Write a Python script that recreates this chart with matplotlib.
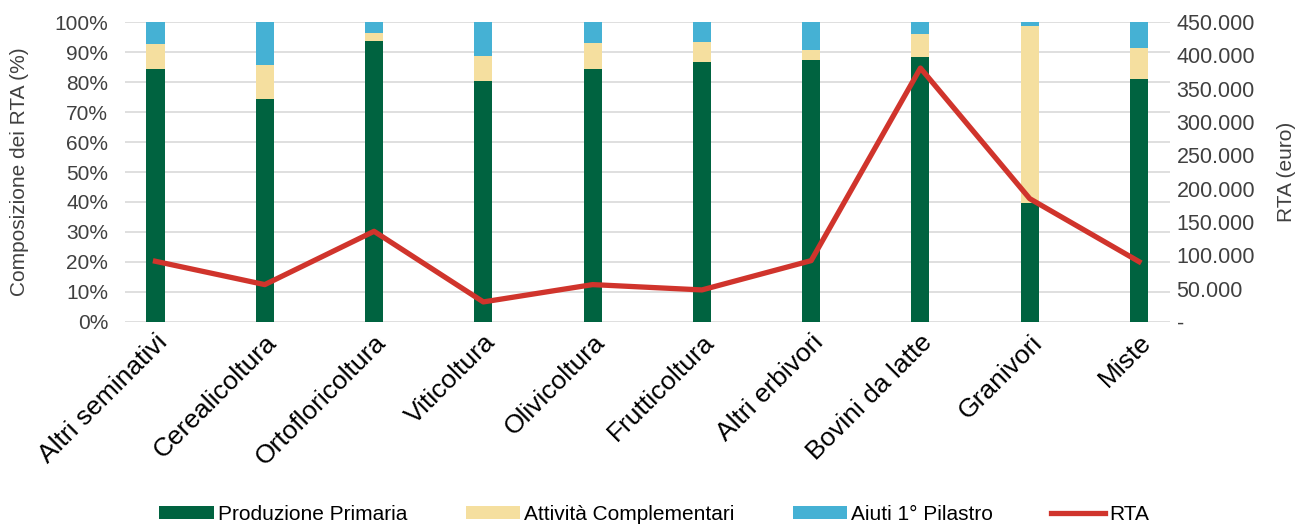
import matplotlib.pyplot as plt
from matplotlib.ticker import FuncFormatter, MultipleLocator

plt.rcParams['font.family'] = ['Liberation Sans', 'DejaVu Sans']

# ordinamenti produttivi
categorie = ["Altri seminativi", "Cerealicoltura", "Ortofloricoltura", "Viticoltura",
             "Olivicoltura", "Frutticoltura", "Altri erbivori", "Bovini da latte",
             "Granivori", "Miste"]

# composizione dei RTA (%)
produzione_primaria = [84.4, 74.5, 93.6, 80.5, 84.3, 86.8, 87.2, 88.4, 39.8, 80.9]
attivita_complementari = [8.4, 11.3, 2.8, 8.2, 8.8, 6.7, 3.5, 7.7, 59.0, 10.3]
aiuti_pilastro = [7.2, 14.2, 3.6, 11.3, 6.9, 6.5, 9.3, 3.9, 1.2, 8.8]

# RTA medio (euro)
rta = [91000, 56000, 136000, 30000, 56000, 48000, 92000, 381000, 185000, 90500]

verde = "#006340"
giallo = "#F5DF9F"
azzurro = "#45B1D4"
rosso = "#D0342C"
grigio = "#404040"

fig = plt.figure(figsize=(13.01, 5.26), dpi=100)
ax = fig.add_axes([0.096, 0.388, 0.803, 0.570])

x = range(len(categorie))
w = 0.165
ax.bar(x, produzione_primaria, w, color=verde, label="Produzione Primaria", zorder=2)
base = produzione_primaria
ax.bar(x, attivita_complementari, w, bottom=base, color=giallo,
       label="Attività Complementari", zorder=2)
base = [a + b for a, b in zip(produzione_primaria, attivita_complementari)]
ax.bar(x, aiuti_pilastro, w, bottom=base, color=azzurro, label="Aiuti 1° Pilastro", zorder=2)

ax.set_ylim(0, 100)
ax.set_xlim(-0.28, 9.28)
ax.yaxis.set_major_locator(MultipleLocator(10))
ax.yaxis.set_major_formatter(FuncFormatter(lambda v, p: f"{v:.0f}%"))
ax.grid(axis='y', color='#D9D9D9', linewidth=1.2, zorder=0)
ax.set_axisbelow(True)
for s in ax.spines.values():
    s.set_visible(False)
ax.tick_params(axis='y', length=0, labelsize=15, colors=grigio, pad=12)
ax.set_xticks(list(x))
ax.set_xticklabels(categorie, rotation=45, ha='right', rotation_mode='anchor',
                   fontsize=19, color='black')
ax.tick_params(axis='x', length=0, pad=6)
ax.set_ylabel("Composizione dei RTA (%)", fontsize=15, color=grigio, labelpad=18)

# asse secondario per il RTA
ax2 = ax.twinx()
ax2.plot(x, rta, color=rosso, linewidth=3.8, label="RTA", zorder=3)
ax2.set_ylim(0, 450000)
ax2.yaxis.set_major_locator(MultipleLocator(50000))
ax2.yaxis.set_major_formatter(FuncFormatter(
    lambda v, p: "-" if v == 0 else f"{v:,.0f}".replace(",", ".")))
for s in ax2.spines.values():
    s.set_visible(False)
ax2.tick_params(axis='y', length=0, labelsize=15.5, colors=grigio, pad=5)
ax2.set_ylabel("RTA (euro)", fontsize=15, color=grigio, labelpad=16)

h1, l1 = ax.get_legend_handles_labels()
h2, l2 = ax2.get_legend_handles_labels()
fig.legend(h1 + h2, l1 + l2, loc='center', bbox_to_anchor=(0.503, 0.022), ncol=4,
           frameon=False, fontsize=15, handlelength=2.6, handleheight=0.6,
           handletextpad=0.2, columnspacing=2.8, borderpad=0)

fig.savefig("out.png", dpi=100)
